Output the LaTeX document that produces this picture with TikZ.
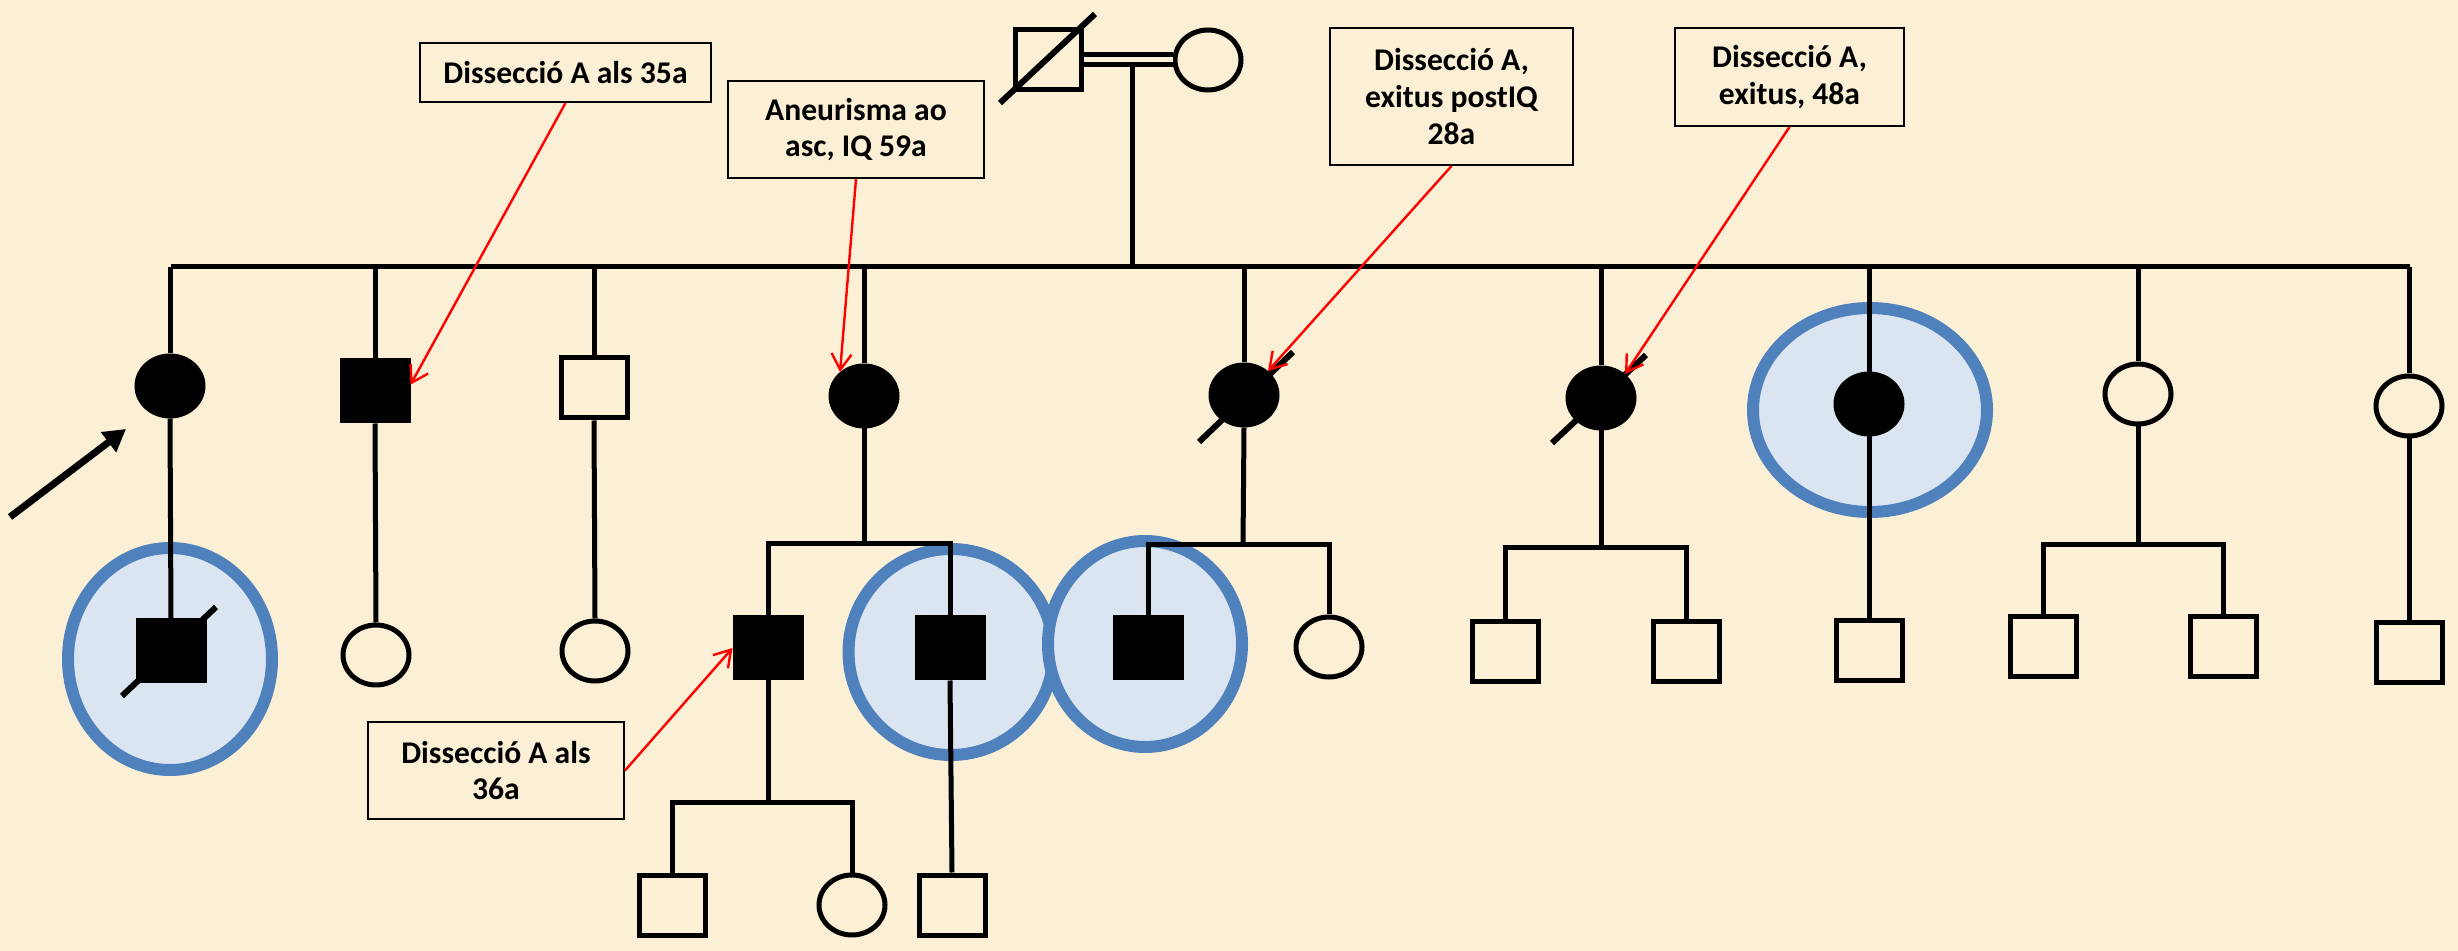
\documentclass[tikz,border=0pt]{standalone}
\usepackage{fontspec}
\setmainfont{Carlito}
\usetikzlibrary{shapes.geometric,arrows.meta,calc}
\definecolor{parchment}{RGB}{251,240,214}
\definecolor{halorim}{RGB}{79,129,189}
\definecolor{halofill}{RGB}{219,229,242}

\begin{document}
\begin{tikzpicture}[x=0.5pt,y=-0.5pt,
    line/.style={line width=2.5pt},
    person/.style={draw,line width=2.5pt,inner sep=0pt,minimum width=33pt,minimum height=30pt},
    male/.style={person,rectangle},
    female/.style={person,ellipse},
    ill/.style={fill=black},
    halo/.style={ellipse,draw=halorim,fill=halofill,line width=6pt,inner sep=0pt},
    note/.style={draw,line width=1pt,inner sep=0pt,align=center,font=\fontsize{15.8}{18.3}\selectfont\bfseries},
    pointer/.style={red,line width=1.2pt,-{Straight Barb[length=8pt,width=10pt]}},
    slash/.style={line width=3pt},
    proband/.style={line width=3.5pt,-{Triangle[length=11pt,width=12pt]}}]
    \fill[parchment] (0,0) rectangle (2458,951);
    \useasboundingbox (0,0) rectangle (2458,951);

    \node[halo,minimum width=102pt,minimum height=111pt] (h1) at (170,659) {};
    \node[halo,minimum width=102.5pt,minimum height=103pt] (hB) at (951,652) {};
    \node[halo,minimum width=97pt,minimum height=103pt] (hC) at (1145,644) {};
    \node[halo,minimum width=117pt,minimum height=102pt] (h7) at (1870,410) {};

    \node[male] (fa) at (1048,60) {};
    \node[female] (mo) at (1208,60) {};

    \node[female,ill] (c1) at (170,386) {};
    \node[male,ill] (c2) at (375,391) {};
    \node[male] (c3) at (594,388) {};
    \node[female,ill] (c4) at (864,396) {};
    \node[female,ill] (c5) at (1244,395) {};
    \node[female,ill] (c6) at (1601,398) {};
    \node[female,ill] (c7) at (1869,404) {};
    \node[female] (c8) at (2138,394) {};
    \node[female] (c9) at (2409,406) {};

    \node[male,ill] (d1) at (171,651) {};
    \node[female] (d2) at (376,655) {};
    \node[female] (d3) at (595,651) {};
    \node[male,ill] (dA) at (768,648) {};
    \node[male,ill] (dB) at (950,648) {};
    \node[male,ill] (dC) at (1148,648) {};
    \node[female] (dD) at (1329,647) {};
    \node[male] (dE) at (1505,652) {};
    \node[male] (dF) at (1686,652) {};
    \node[male] (dG) at (1869,651) {};
    \node[male] (dH) at (2043,647) {};
    \node[male] (dI) at (2223,647) {};
    \node[male] (dJ) at (2409,653) {};

    \node[male] (eA) at (672,905) {};
    \node[female] (eB) at (852,905) {};
    \node[male] (eC) at (952,905) {};

    \node[note,minimum width=145.5pt,minimum height=29.5pt] (n1) at (565.5,72.5) {Dissecció A als 35a};
    \node[note,minimum width=128pt,minimum height=48.5pt] (n2) at (856,129.5) {Aneurisma ao\\asc, IQ 59a};
    \node[note,minimum width=121.5pt,minimum height=68.5pt] (n3) at (1451.5,96.5) {Dissecció A,\\exitus postIQ\\28a};
    \node[note,minimum width=114.5pt,minimum height=49pt] (n4) at (1789.5,77) {Dissecció A,\\exitus, 48a};
    \node[note,minimum width=128pt,minimum height=48.5pt] (n5) at (496,770.5) {Dissecció A als\\36a};

    \coordinate (mar) at (1132,66);
    \coordinate (sibL) at (171,267);
    \coordinate (sibR) at (2410,267);
    \coordinate (s4) at (864,544);
    \coordinate (s5) at (1243,545);
    \coordinate (s6) at (1601,548);
    \coordinate (s8) at (2138,545);
    \coordinate (sA) at (768,802);
    \coordinate (pb) at (10,517);
    \coordinate (pbtip) at (126,429);

    \draw[line width=2.5pt,double=parchment,double distance=2.5pt] (fa.east) -- (mo.west);
    \draw[line] (mar) -- (mar |- sibL);
    \draw[line] (sibL) -- (sibR);
    \foreach \p in {c1,c2,c3,c4,c5,c6,c8,c9} \draw[line] (\p.north) -- (\p |- sibL);
    \draw[line] (c7 |- sibL) -- (dG.north);

    \draw[line] (c1.south) -- (d1.north); \draw[line] (c2.south) -- (d2.north);
    \draw[line] (c3.south) -- (d3.north); \draw[line] (c9.south) -- (dJ.north);
    \draw[line] (c4.south) -- (s4); \draw[line] (dA.north) -- (dA |- s4) -- (dB |- s4) -- (dB.north);
    \draw[line] (c5.south) -- (s5); \draw[line] (dC.north) -- (dC |- s5) -- (dD |- s5) -- (dD.north);
    \draw[line] (c6.south) -- (s6); \draw[line] (dE.north) -- (dE |- s6) -- (dF |- s6) -- (dF.north);
    \draw[line] (c8.south) -- (s8); \draw[line] (dH.north) -- (dH |- s8) -- (dI |- s8) -- (dI.north);
    \draw[line] (dA.south) -- (sA); \draw[line] (eA.north) -- (eA |- sA) -- (eB |- sA) -- (eB.north);
    \draw[line] (dB.south) -- (eC.north);

    \draw[slash] ($(fa)+(-48,43)$) -- ($(fa)+(47,-46)$);
    \draw[slash] ($(c5)+(-45,47)$) -- ($(c5)+(49,-43)$);
    \draw[slash] ($(c6)+(-49,45)$) -- ($(c6)+(45,-43)$);
    \draw[slash] ($(d1)+(-49,45)$) -- ($(d1)+(45,-44)$);

    \draw[proband] (pb) -- (pbtip);

    \draw[pointer] (n1.south) -- (c2.10);
    \draw[pointer] (n2.south) -- (c4.135);
    \draw[pointer] (n3.south) -- (c5.45);
    \draw[pointer] (n4.south) -- (c6.45);
    \draw[pointer] (n5.east) -- (dA.west);
\end{tikzpicture}
\end{document}
